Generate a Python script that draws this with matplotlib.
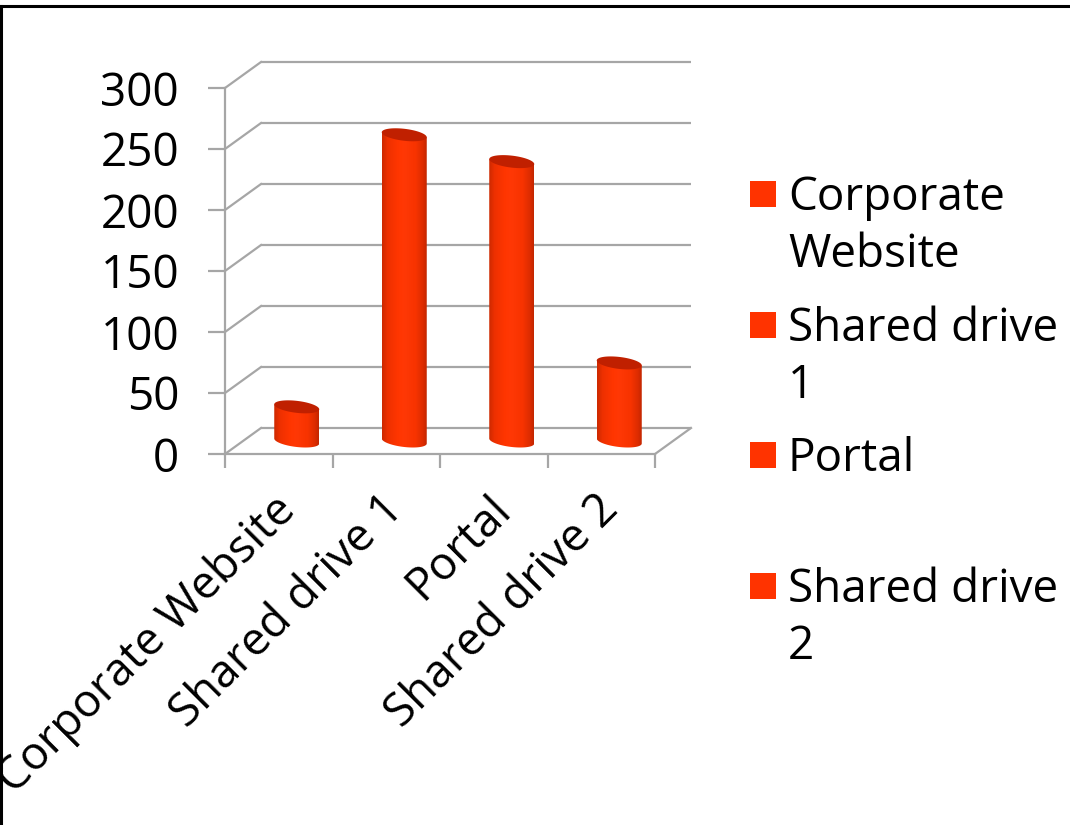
import numpy as np
import matplotlib
matplotlib.use("Agg")
import matplotlib.pyplot as plt
from matplotlib.path import Path
from matplotlib.patches import PathPatch, Rectangle
from matplotlib.lines import Line2D
from matplotlib.transforms import ScaledTranslation

# ---------------- data ----------------
categories = ["Corporate Website", "Shared drive 1", "Portal", "Shared drive 2"]
values = [28, 251, 229, 64]
legend_labels = ["Corporate\nWebsite", "Shared drive\n1", "Portal", "Shared drive\n2"]
y_ticks = [0, 50, 100, 150, 200, 250, 300]

# ---------------- style ----------------
W, H, DPI = 1070, 825, 100
FONT = "Open Sans"
FS = 33
GRID = "#a6a6a6"
BAR = "#ff3300"
TOP = "#c02000"

plt.rcParams["font.family"] = [FONT, "DejaVu Sans"]

fig = plt.figure(figsize=(W / DPI, H / DPI), dpi=DPI)
fig.patch.set_facecolor("white")

# front plane of the 3-D box
L, R, B, T = 225, 655, 454, 88
ax = fig.add_axes([L / W, 1 - B / H, (R - L) / W, (B - T) / H])
n = len(categories)
ax.set_xlim(0, n)
ax.set_ylim(0, 300)
ax.set_facecolor("none")

# depth offset of the back wall (in data units)
px_x = (R - L) / n          # pixels per category
px_y = (B - T) / 300.0      # pixels per value unit
dxd = 36 / px_x
dyd = 26 / px_y

# back wall gridlines and side-wall diagonals
for t in y_ticks:
    ax.plot([dxd, n + dxd], [t + dyd, t + dyd], color=GRID, lw=1.6,
            clip_on=False, zorder=1, solid_capstyle="butt")
    ax.plot([0, dxd], [t, t + dyd], color=GRID, lw=1.6, clip_on=False, zorder=1)
# floor right edge
ax.plot([n, n + dxd], [0, dyd], color=GRID, lw=1.6, clip_on=False, zorder=1)

# spines / ticks
for s in ["top", "right"]:
    ax.spines[s].set_visible(False)
for s in ["left", "bottom"]:
    ax.spines[s].set_color(GRID)
    ax.spines[s].set_linewidth(1.6)
ax.set_yticks(y_ticks)
ax.set_yticklabels([str(t) for t in y_ticks], fontsize=FS)
ax.tick_params(axis="y", length=12, width=1.6, color=GRID, pad=21)
ax.set_xticks(np.arange(n + 1))
ax.set_xticklabels([])
ax.tick_params(axis="x", which="major", length=10, width=1.6, color=GRID)

# category labels (rotated 45 degrees, end anchored under each category)
lab_tr = ax.transData + ScaledTranslation(0.10, -0.49, fig.dpi_scale_trans)
for i, c in enumerate(categories):
    ax.text(i + 0.5, 0, c, transform=lab_tr, fontsize=FS, rotation=45,
            rotation_mode="anchor", ha="right", va="center", clip_on=False)

# cylinders
bw = 45 / px_x              # cylinder width (data)
eh = 12 / px_y              # ellipse height (data)
skew = 2.5 / px_y           # slight perspective tilt
grad_pos = [0.0, 0.12, 0.35, 0.5, 0.75, 0.92, 1.0]
grad_col = np.array([
    [0.80, 0.16, 0.00],
    [0.93, 0.19, 0.00],
    [1.00, 0.21, 0.00],
    [1.00, 0.22, 0.02],
    [0.97, 0.20, 0.00],
    [0.86, 0.17, 0.00],
    [0.76, 0.15, 0.00],
])
xs = np.linspace(0, 1, 120)
grad = np.stack([np.interp(xs, grad_pos, grad_col[:, k]) for k in range(3)], axis=-1)[None, :, :]

theta_low = np.linspace(np.pi, 2 * np.pi, 60)
theta_all = np.linspace(0, 2 * np.pi, 120)
for i, v in enumerate(values):
    cx = i + 0.5 + dxd / 2
    base = dyd / 2
    top = base + v
    x0, x1 = cx - bw / 2, cx + bw / 2
    bx = cx + (bw / 2) * np.cos(theta_low)
    by = base + (eh / 2) * np.sin(theta_low) - skew * np.cos(theta_low)
    verts = list(zip(bx, by)) + [(x1, top - skew), (x0, top + skew), (bx[0], by[0])]
    codes = [Path.MOVETO] + [Path.LINETO] * (len(verts) - 2) + [Path.CLOSEPOLY]
    body = PathPatch(Path(verts, codes), facecolor="none", edgecolor="none",
                     transform=ax.transData)
    ax.add_patch(body)
    im = ax.imshow(grad, extent=(x0, x1, base - eh, top + eh), aspect="auto",
                   zorder=3, interpolation="bilinear")
    im.set_clip_path(body)
    tx = cx + (bw / 2) * np.cos(theta_all)
    ty = top + (eh / 2) * np.sin(theta_all) - skew * np.cos(theta_all)
    ax.fill(tx, ty, color=TOP, zorder=4, lw=0)
ax.set_xlim(0, n)
ax.set_ylim(0, 300)

# legend (manual, Excel-like equal slots)
slot_y = [194, 325, 455, 586]
line_step = 57
for lab, yc in zip(legend_labels, slot_y):
    fig.add_artist(Rectangle((750 / W, 1 - (yc + 13) / H), 26 / W, 26 / H,
                             transform=fig.transFigure, facecolor=BAR,
                             edgecolor="none"))
    for k, line in enumerate(lab.split("\n")):
        fig.text(788 / W, 1 - (yc + 16 + k * line_step) / H, line, fontsize=FS,
                 va="baseline", ha="left")

# outer frame (top and left edges visible)
fig.add_artist(Line2D([0, 1], [1 - 6 / H, 1 - 6 / H], color="black", lw=2.2,
                      transform=fig.transFigure))
fig.add_artist(Line2D([1.5 / W, 1.5 / W], [0, 1 - 6 / H], color="black", lw=2.2,
                      transform=fig.transFigure))

fig.savefig("out.png", dpi=DPI, facecolor="white")
